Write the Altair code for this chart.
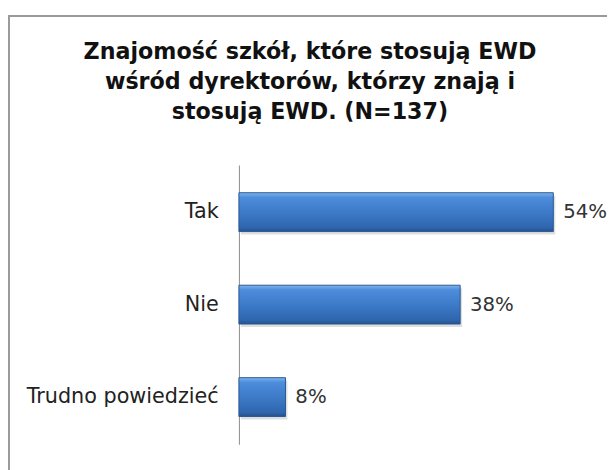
import altair as alt
import pandas as pd

categories = ["Tak", "Nie", "Trudno powiedzieć"]
values = [54, 38, 8]
value_labels = ["54%", "38%", "8%"]
title_lines = [
    "Znajomość szkół, które stosują EWD",
    "wśród dyrektorów, którzy znają i",
    "stosują EWD. (N=137)",
]

df = pd.DataFrame({"kategoria": categories, "procent": values, "etykieta": value_labels})
single = pd.DataFrame({"f": [0]})

y_enc = alt.Y(
    "kategoria:N",
    sort=categories,
    title=None,
    scale=alt.Scale(paddingInner=0.58, paddingOuter=0.3),
    axis=alt.Axis(
        domain=True,
        domainColor="#8c8c8c",
        domainWidth=1,
        ticks=False,
        labelPadding=21,
        labelFont="DejaVu Sans",
        labelFontSize=21,
        labelColor="#222222",
        labelLimit=300,
    ),
)
x_enc = alt.X("procent:Q", scale=alt.Scale(domain=[0, 60]), axis=None)

grad = alt.Gradient(
    gradient="linear",
    x1=0, x2=0, y1=0, y2=1,
    stops=[
        alt.GradientStop(offset=0, color="#7fb4ee"),
        alt.GradientStop(offset=0.12, color="#4d8ddb"),
        alt.GradientStop(offset=0.55, color="#3b78c6"),
        alt.GradientStop(offset=0.9, color="#2f65ad"),
        alt.GradientStop(offset=1, color="#24508c"),
    ],
)

base = alt.Chart(df)

shadow = base.mark_bar(color="#b8b8b8", opacity=0.45, xOffset=2, yOffset=3).encode(x=x_enc, y=y_enc)
bars = base.mark_bar(color=grad, stroke="#2a5894", strokeWidth=1).encode(x=x_enc, y=y_enc)
labels = base.mark_text(
    align="left", baseline="middle", dx=10, font="DejaVu Sans", fontSize=20, color="#333333"
).encode(x=x_enc, y=y_enc, text="etykieta:N")

frame = alt.Chart(single).mark_rect(filled=False, stroke="#9a9a9a", strokeWidth=2).encode(
    x=alt.value(-233), x2=alt.value(700), y=alt.value(-151), y2=alt.value(500)
)

title = alt.Chart(single).mark_text(
    text="\n".join(title_lines),
    lineBreak="\n",
    lineHeight=30,
    align="center",
    baseline="alphabetic",
    font="DejaVu Sans",
    fontSize=22.5,
    fontWeight="bold",
    color="#111111",
).encode(x=alt.value(72), y=alt.value(-107))

chart = (
    alt.layer(frame, shadow, bars, labels, title)
    .properties(
        width=354,
        height=283,
        autosize=alt.AutoSizeParams(type="none"),
        padding={"left": 234, "top": 156, "right": 19, "bottom": 23},
        background="white",
    )
    .configure_view(stroke=None)
)

chart.save("out.html", embed_options={"renderer": "svg", "actions": False})
